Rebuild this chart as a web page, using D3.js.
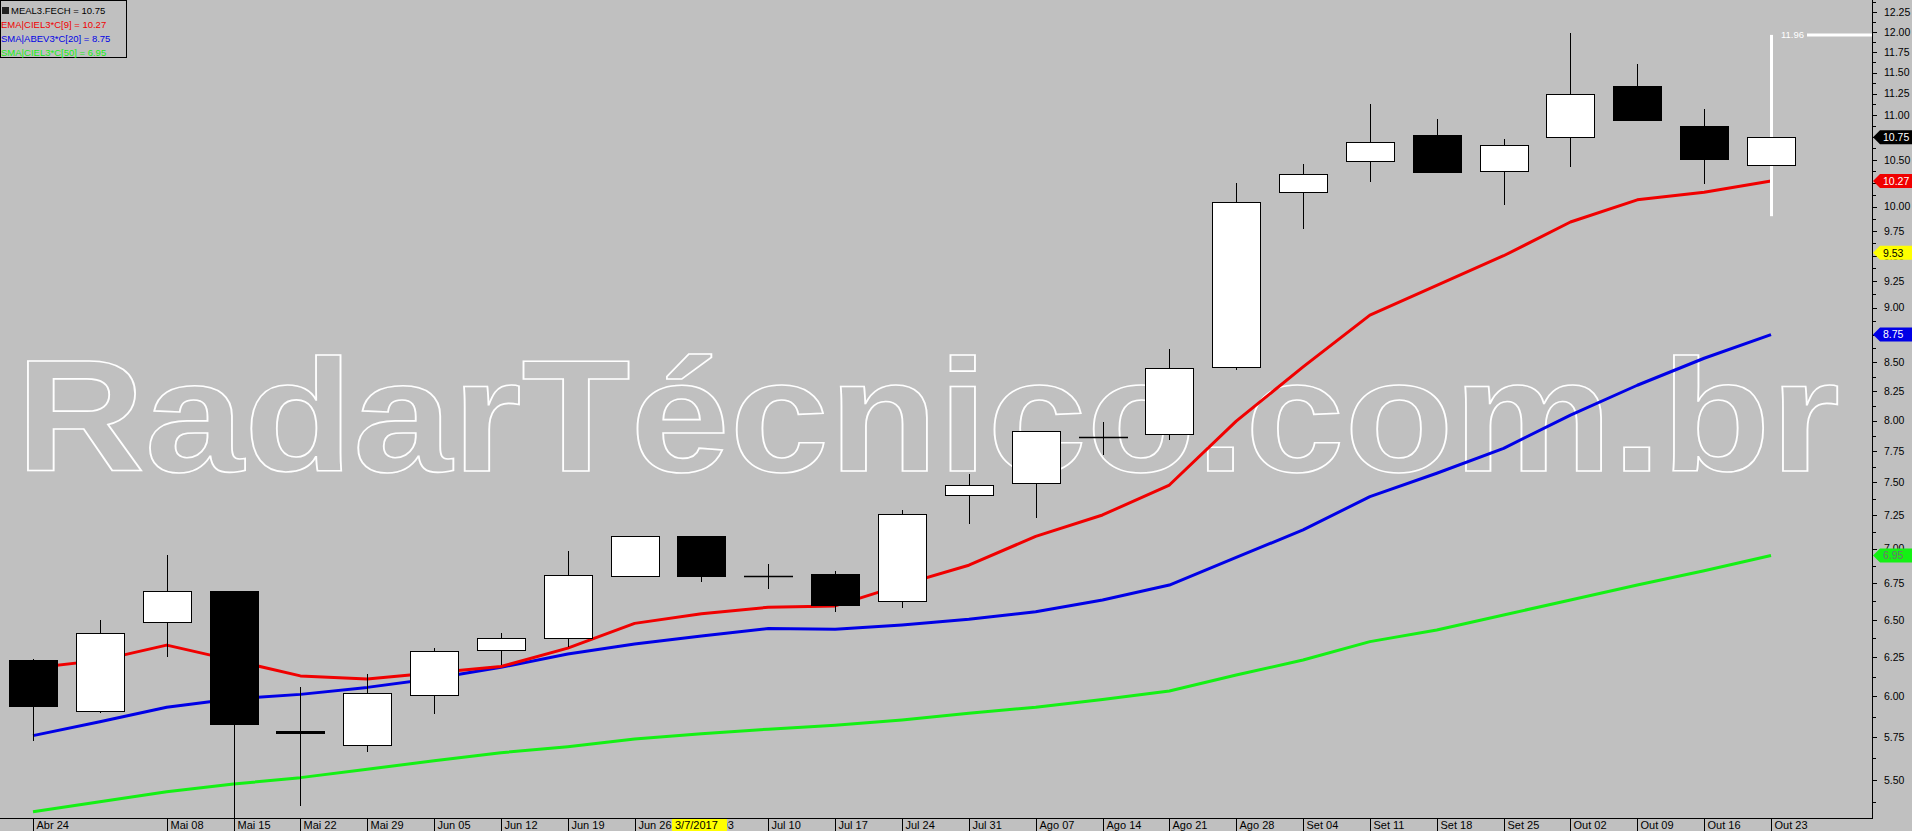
<!DOCTYPE html>
<html><head><meta charset="utf-8">
<script src="https://cdn.jsdelivr.net/npm/d3@7"></script>
<style>
html,body{margin:0;padding:0;background:#c0c0c0;overflow:hidden;}
svg{display:block;}
text{font-family:"Liberation Sans",Arial,sans-serif;}
</style></head>
<body>
<svg id="chart" width="1912" height="831"></svg>
<script>
// ---------- DATA ----------
const categories = ["Abr 24","Mai 01","Mai 08","Mai 15","Mai 22","Mai 29","Jun 05","Jun 12","Jun 19","Jun 26","Jul 03","Jul 10","Jul 17","Jul 24","Jul 31","Ago 07","Ago 14","Ago 21","Ago 28","Set 04","Set 11","Set 18","Set 25","Out 02","Out 09","Out 16","Out 23"];
const xLabels = ["Abr 24","","Mai 08","Mai 15","Mai 22","Mai 29","Jun 05","Jun 12","Jun 19","Jun 26","Jul 03","Jul 10","Jul 17","Jul 24","Jul 31","Ago 07","Ago 14","Ago 21","Ago 28","Set 04","Set 11","Set 18","Set 25","Out 02","Out 09","Out 16","Out 23"];
const openV  = [6.23,5.91,6.49,6.70,5.785,5.70,6.01,6.30,6.38,6.80,7.09,6.80,6.82,6.63,7.40,7.49,7.86,7.89,8.46,10.16,10.49,10.77,10.37,10.76,11.34,10.88,10.44];
const highV  = [6.24,6.50,6.95,6.70,6.06,6.14,6.31,6.41,6.98,7.09,7.09,6.89,6.84,7.29,7.57,7.91,7.99,8.62,10.25,10.45,11.13,10.96,10.73,11.98,11.60,11.07,11.96];
const lowV   = [5.73,5.90,6.25,5.25,5.35,5.66,5.89,6.20,6.32,6.80,6.76,6.71,6.55,6.58,7.18,7.23,7.72,7.84,8.43,9.77,10.26,10.36,10.02,10.42,10.94,10.24,9.90];
const closeV = [5.94,6.41,6.70,5.83,5.77,6.02,6.29,6.38,6.81,7.09,6.80,6.80,6.60,7.26,7.48,7.91,7.86,8.45,10.05,10.35,10.70,10.36,10.66,11.25,10.94,10.51,10.75];
const emaV   = [6.18,6.23,6.33,6.23,6.13,6.11,6.15,6.19,6.31,6.475,6.54,6.585,6.594,6.74,6.88,7.09,7.25,7.48,7.995,8.46,8.93,9.21,9.50,9.84,10.07,10.15,10.27];
const sma20V = [5.76,5.844,5.933,5.985,6.013,6.057,6.114,6.185,6.271,6.337,6.39,6.44,6.435,6.464,6.503,6.554,6.635,6.739,6.936,7.138,7.39,7.572,7.772,8.046,8.30,8.537,8.75];
const sma50V = [5.32,5.376,5.432,5.476,5.513,5.561,5.611,5.658,5.694,5.739,5.771,5.799,5.823,5.855,5.896,5.933,5.981,6.034,6.136,6.232,6.353,6.43,6.532,6.635,6.739,6.84,6.95];
const yTickLabels = ["5.50","5.75","6.00","6.25","6.50","6.75","7.00","7.25","7.50","7.75","8.00","8.25","8.50","8.75","9.00","9.25","9.50","9.75","10.00","10.25","10.50","10.75","11.00","11.25","11.50","11.75","12.00","12.25"];
const yMinorTicks = [5.375,5.625,5.875,6.125,6.375,6.625,6.875,7.125,7.375,7.625,7.875,8.125,8.375,8.625,8.875,9.125,9.375,9.625,9.875,10.125,10.375,10.625,10.875,11.125,11.375,11.625,11.875,12.125,12.375];
const legendLabels = ["MEAL3.FECH = 10.75","EMA|CIEL3*C[9] = 10.27","SMA|ABEV3*C[20] = 8.75","SMA|CIEL3*C[50] = 6.95"];
const tagValues = [10.75, 10.27, 9.53, 8.75, 6.95];
const tagLabels = ["10.75","10.27","9.53","8.75","6.95"];
const rangeHigh = 11.96, rangeLow = 9.90, rangeLabel = "11.96";
const dateLabel = "3/7/2017";
const watermark = "RadarTécnico.com.br";

// ---------- STYLE ----------
const W = 1912, H = 831;
const axisX = 1872, axisY = 818;
const colRed = "#f00000", colBlue = "#0000e6", colGreen = "#14f014";
const tagFill = ["#000000", colRed, "#ffff00", colBlue, colGreen];
const tagText = ["#ffffff", "#ffffff", "#000000", "#ffffff", "#707070"];

const svg = d3.select("#chart");
svg.append("rect").attr("width", W).attr("height", H).attr("fill", "#c0c0c0");

const x = d3.scalePoint().domain(categories).range([33, 1771]);
const y = d3.scaleLog().domain([5.5, 12]).range([779.9, 31.7]);

svg.append("clipPath").attr("id", "plotclip").append("rect")
  .attr("x", 0).attr("y", 0).attr("width", axisX).attr("height", axisY);
const plot = svg.append("g").attr("clip-path", "url(#plotclip)");

// watermark
plot.append("text")
  .attr("x", 16).attr("y", 471)
  .attr("textLength", 1824).attr("lengthAdjust", "spacingAndGlyphs")
  .style("font-family", "'Liberation Sans',Arial,sans-serif")
  .style("font-weight", "bold").style("font-size", "159px")
  .attr("fill", "none").attr("stroke", "#ffffff").attr("stroke-width", 1.6)
  .text(watermark);

// moving averages
const line = d3.line().x((d, i) => x(categories[i])).y(d => y(d));
[[sma50V, colGreen], [sma20V, colBlue], [emaV, colRed]].forEach(([arr, c]) => {
  plot.append("path").datum(arr).attr("d", line)
    .attr("fill", "none").attr("stroke", c).attr("stroke-width", 3)
    .attr("stroke-linejoin", "round");
});

// candles
const idx = d3.range(categories.length);
const cx = i => Math.round(x(categories[i])) + 0.5;
plot.append("g").selectAll("line").data(idx).enter().append("line")
  .attr("x1", cx).attr("x2", cx)
  .attr("y1", i => y(highV[i])).attr("y2", i => y(lowV[i]))
  .attr("stroke", "#000").attr("stroke-width", 1).attr("shape-rendering", "crispEdges");

// range annotation on last bar (white)
const lastX = cx(categories.length - 1);
plot.append("line").attr("x1", lastX).attr("x2", lastX)
  .attr("y1", y(rangeHigh)).attr("y2", y(rangeLow))
  .attr("stroke", "#ffffff").attr("stroke-width", 3);

const bodies = plot.append("g");
idx.forEach(i => {
  const o = openV[i], c = closeV[i];
  const top = y(Math.max(o, c)), bot = y(Math.min(o, c));
  const bx = Math.round(x(categories[i]) - 24) + 0.5;
  if (bot - top < 1) {
    bodies.append("line").attr("x1", bx - 0.5).attr("x2", bx + 48.5)
      .attr("y1", Math.round(top) + 0.5).attr("y2", Math.round(top) + 0.5)
      .attr("stroke", "#000").attr("stroke-width", 1.6);
  } else {
    bodies.append("rect").attr("x", bx).attr("width", 48)
      .attr("y", Math.round(top) + 0.5).attr("height", Math.max(1, Math.round(bot - top)))
      .attr("fill", c >= o ? "#ffffff" : "#000000")
      .attr("stroke", "#000").attr("stroke-width", 1).attr("shape-rendering", "crispEdges");
  }
});

// annotation label & horizontal line
svg.append("line").attr("x1", 1807).attr("x2", axisX)
  .attr("y1", y(rangeHigh)).attr("y2", y(rangeHigh))
  .attr("stroke", "#ffffff").attr("stroke-width", 3);
svg.append("text").attr("x", 1804).attr("y", y(rangeHigh) + 3.3)
  .attr("text-anchor", "end").attr("fill", "#ffffff")
  .style("font-size", "9.5px").text(rangeLabel);

// ---------- Y axis ----------
const yMajor = yTickLabels.map(Number);
const axisMajor = d3.axisRight(y).tickValues(yMajor).tickSize(5).tickPadding(7)
  .tickFormat((d, i) => yTickLabels[i]);
const gy = svg.append("g").attr("transform", `translate(${axisX},0)`).call(axisMajor);
gy.select(".domain").remove();
gy.selectAll("line").attr("stroke", "#000").attr("shape-rendering", "crispEdges");
gy.selectAll("text").attr("fill", "#000")
  .style("font-size", "10.5px").style("font-family", "'Liberation Sans',Arial,sans-serif");
const axisMinor = d3.axisRight(y).tickValues(yMinorTicks).tickSize(4).tickFormat("");
const gy2 = svg.append("g").attr("transform", `translate(${axisX},0)`).call(axisMinor);
gy2.select(".domain").remove();
gy2.selectAll("line").attr("stroke", "#000").attr("shape-rendering", "crispEdges");

svg.append("line").attr("x1", axisX + 0.5).attr("x2", axisX + 0.5).attr("y1", 0).attr("y2", axisY)
  .attr("stroke", "#000").attr("stroke-width", 1);

// price tags
tagValues.forEach((v, i) => {
  const ty = y(v);
  svg.append("path")
    .attr("d", `M${axisX + 1},${ty} L${axisX + 8},${ty - 7} L${W},${ty - 7} L${W},${ty + 7} L${axisX + 8},${ty + 7} Z`)
    .attr("fill", tagFill[i]);
  svg.append("text").attr("x", 1883).attr("y", ty + 3.8)
    .attr("fill", tagText[i]).style("font-size", "10.5px").text(tagLabels[i]);
});

// ---------- X axis ----------
svg.append("line").attr("x1", 0).attr("x2", axisX + 1).attr("y1", axisY + 0.5).attr("y2", axisY + 0.5)
  .attr("stroke", "#000").attr("stroke-width", 1);
const gx = svg.append("g");
idx.forEach(i => {
  if (!xLabels[i]) return;
  const px = Math.round(x(categories[i])) + 0.5;
  gx.append("line").attr("x1", px).attr("x2", px).attr("y1", axisY).attr("y2", H)
    .attr("stroke", "#000").attr("stroke-width", 1);
  gx.append("text").attr("x", px + 3).attr("y", 829).attr("fill", "#000")
    .style("font-size", "11px").text(xLabels[i]);
});
// highlighted current date
svg.append("rect").attr("x", 672).attr("y", axisY + 1).attr("width", 55).attr("height", H - axisY - 1)
  .attr("fill", "#ffff00");
svg.append("text").attr("x", 675).attr("y", 829).attr("fill", "#000")
  .style("font-size", "11px").text(dateLabel);

// ---------- Legend ----------
const leg = svg.append("g");
leg.append("rect").attr("x", 0.5).attr("y", 0.5).attr("width", 126).attr("height", 57)
  .attr("fill", "#c0c0c0").attr("stroke", "#000").attr("stroke-width", 1);
leg.append("rect").attr("x", 2).attr("y", 7).attr("width", 7).attr("height", 7).attr("fill", "#222");
const legCols = ["#000000", colRed, colBlue, colGreen];
legendLabels.forEach((t, i) => {
  leg.append("text").attr("x", i === 0 ? 11 : 1).attr("y", 14 + i * 14)
    .attr("fill", legCols[i]).style("font-size", "9.5px").text(t);
});
</script>
</body></html>
